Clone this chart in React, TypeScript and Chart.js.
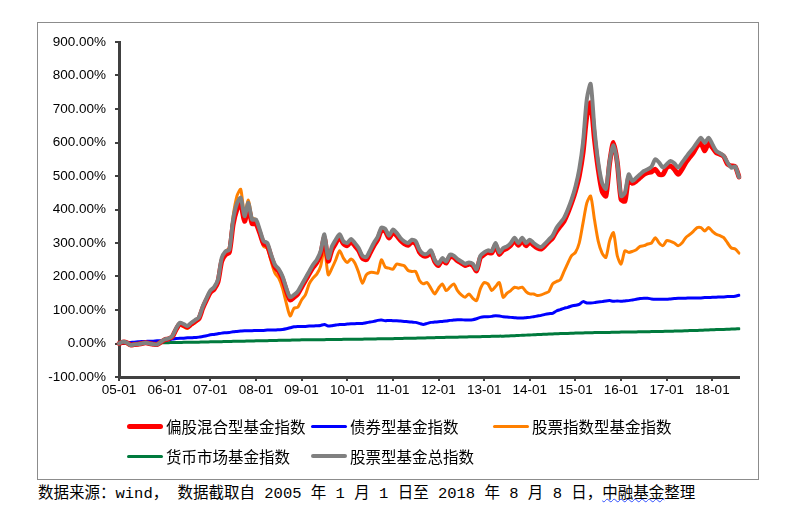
import React, { useEffect, useRef } from "react";
import { Chart, registerables } from "chart.js";

Chart.register(...registerables);

// ---- categories: monthly, 2005-01 .. 2018-08 ----
const startYear = 2005;
const monthCount = 164;
const categories: string[] = [];
for (let i = 0; i < monthCount; i++) {
  const y = (startYear + Math.floor(i / 12)) % 100;
  const m = (i % 12) + 1;
  categories.push(String(y).padStart(2, "0") + "-" + String(m).padStart(2, "0"));
}

// ---- y tick values ----
const yMin = -100;
const yMax = 900;
const yStep = 100;

// ---- series values (%), one value per month ----
const hybridEquity = [
  0, 4, 3, -4, -3, -2, 0, 2, 0, -2, -3, 4,
  11, 14, 20, 42, 58, 54, 49, 58, 66, 74, 105, 130,
  152, 162, 183, 245, 265, 272, 355, 400, 418, 365, 405, 358,
  358, 330, 298, 292, 258, 228, 215, 193, 158, 130, 138, 148,
  168, 188, 208, 227, 242, 266, 315, 246, 280, 300, 318, 298,
  292, 304, 292, 278, 255, 250, 270, 292, 310, 338, 335, 315,
  332, 322, 308, 298, 293, 303, 298, 273, 262, 262, 272, 245,
  233, 250, 240, 260, 257, 247, 240, 233, 237, 233, 217, 256,
  266, 272, 270, 294, 266, 279, 284, 293, 308, 293, 308, 292,
  303, 293, 285, 282, 292, 304, 315, 335, 350, 365, 390, 420,
  455, 500, 570, 680, 718, 610, 520, 455, 440, 540, 600, 540,
  430, 425, 495, 478, 485, 495, 505, 510, 512, 520, 505, 505,
  525, 530, 520, 505, 520, 540, 555, 570, 589, 598, 575, 599,
  585, 570, 565, 558, 535, 530, 528, 497,
];

const bondFund = [
  0, 1, 2, 3, 4, 5, 6, 6, 7, 7, 8, 8,
  9, 11, 13, 15, 16, 16, 17, 17, 18, 19, 21, 23,
  26, 27, 29, 31, 32, 33, 35, 36, 37, 38, 38, 38,
  39, 39, 39, 40, 40, 40, 41, 42, 44, 47, 50, 51,
  51, 51, 52, 52, 53, 54, 57, 52, 53, 55, 57, 57,
  58, 59, 59, 60, 60, 62, 64, 66, 69, 70, 68, 69,
  68, 68, 67, 66, 65, 64, 63, 60, 57, 60, 63, 64,
  65, 66, 67, 69, 70, 71, 71, 70, 70, 71, 74, 78,
  80, 80, 81, 83, 82, 80, 79, 78, 77, 76, 76, 77,
  78, 80, 82, 84, 87, 89, 90, 97, 101, 105, 108, 112,
  114, 117, 125, 121, 121, 122, 124, 125, 127, 128, 126, 127,
  126, 127, 128, 130, 132, 134, 135, 135, 133, 132, 132, 132,
  132, 133, 134, 135, 135, 135, 136, 136, 136, 136, 137, 137,
  138, 138, 139, 139, 140, 140, 141, 144,
];

const stockIndexFund = [
  0, 3, 0, -6, -4, -3, -1, 1, -1, -3, -4, 3,
  10, 13, 18, 38, 55, 50, 45, 55, 62, 72, 105, 130,
  155, 165, 190, 255, 275, 285, 380, 440, 460, 385, 428, 375,
  370, 330, 290, 285, 245, 210, 195, 165, 120, 82, 105, 108,
  130, 145, 178, 195, 207, 230, 285, 205, 225, 250, 277, 255,
  242, 252, 240, 212, 180, 205, 212, 212, 210, 250, 228, 225,
  222, 237, 235, 232, 218, 215, 215, 188, 178, 182, 165, 148,
  165, 178, 158, 168, 178, 158, 145, 138, 148, 135, 128, 163,
  182, 178, 158, 170, 182, 138, 150, 158, 168, 165, 168, 155,
  148, 148, 143, 145, 150, 155, 178, 185, 190, 215, 240, 262,
  272, 300, 360, 420, 440, 370, 305, 270, 257, 307, 331, 262,
  237, 277, 272, 275, 280, 290, 292, 297, 300, 316, 300, 292,
  307, 305, 300, 292, 300, 316, 325, 335, 346, 346, 336, 346,
  335, 326, 322, 316, 300, 285, 282, 270,
];

const moneyMarket = [
  0, 0, 0.5, 0.5, 1, 1, 1, 1.5, 1.5, 2, 2, 2,
  2.5, 2.5, 3, 3, 3, 3.5, 3.5, 4, 4, 4, 4.5, 4.5,
  5, 5, 5.5, 5.5, 6, 6, 6.5, 6.5, 7, 7, 7.5, 7.5,
  8, 8, 8.5, 8.5, 9, 9, 9.5, 9.5, 10, 10, 10.5, 10.5,
  11, 11, 11, 11, 11.5, 11.5, 11.5, 12, 12, 12, 12, 12.5,
  12.5, 12.5, 13, 13, 13, 13.5, 13.5, 13.5, 14, 14, 14, 14.5,
  14.5, 15, 15, 15.5, 15.5, 16, 16, 16.5, 16.5, 17, 17, 17.5,
  18, 18, 18.5, 18.5, 19, 19, 19.5, 19.5, 20, 20, 20.5, 20.5,
  21, 21, 21.5, 21.5, 22, 22, 22.5, 23, 23.5, 24, 24.5, 25,
  25.5, 26, 26.5, 27, 27.5, 28, 28.5, 29, 29.5, 30, 30, 30.5,
  31, 31.5, 31.5, 32, 32, 32.5, 32.5, 33, 33, 33, 33.5, 33.5,
  34, 34, 34.5, 34.5, 34.5, 35, 35, 35, 35.5, 35.5, 36, 36,
  36.5, 36.5, 37, 37.5, 37.5, 38, 38.5, 39, 39, 39.5, 40, 40.5,
  41, 41.5, 42, 42, 42.5, 43, 43.5, 44,
];

const stockTotal = [
  0, 5, 3, -5, -3, -2, 0, 2, 0, -2, -3, 5,
  12, 15, 22, 45, 62, 58, 52, 62, 70, 78, 110, 135,
  158, 168, 190, 255, 275, 280, 370, 418, 435, 380, 420, 370,
  370, 340, 306, 300, 265, 235, 222, 200, 165, 138, 145, 155,
  175, 195, 215, 235, 250, 275, 326, 255, 290, 310, 326, 305,
  300, 312, 300, 285, 262, 258, 278, 300, 318, 346, 342, 322,
  340, 330, 315, 305, 300, 310, 305, 280, 268, 268, 278, 250,
  238, 255, 245, 265, 262, 252, 245, 238, 242, 238, 222, 262,
  272, 278, 276, 300, 272, 285, 290, 300, 316, 300, 316, 300,
  310, 300, 292, 288, 298, 310, 322, 345, 360, 375, 400, 430,
  468, 520, 600, 730, 775, 640, 540, 480, 462, 545, 592, 540,
  440, 450, 505, 485, 495, 505, 515, 520, 528, 550, 540, 525,
  535, 545, 538, 525, 540, 555, 570, 584, 600, 614, 599, 614,
  595, 575, 568, 560, 540, 525, 528, 497,
];

const seriesLabels = [
  "偏股混合型基金指数",
  "债券型基金指数",
  "股票指数型基金指数",
  "货币市场基金指数",
  "股票型基金总指数",
];

const seriesColors = ["#FF0000", "#0000FF", "#FF8000", "#007A3D", "#808080"];
const seriesWidths = [5, 3, 3, 3, 4];
const seriesOrder = [1, 3, 2, 4, 0];
const seriesData = [hybridEquity, bondFund, stockIndexFund, moneyMarket, stockTotal];

const legendColumns = [0, 1, 2, 3, 4];

export default function App() {
  const canvasRef = useRef<HTMLCanvasElement | null>(null);

  useEffect(() => {
    if (!canvasRef.current) return;
    const chart = new Chart(canvasRef.current, {
      type: "line",
      data: {
        labels: categories,
        datasets: seriesData.map((d, i) => ({
          label: seriesLabels[i],
          data: d,
          borderColor: seriesColors[i],
          backgroundColor: seriesColors[i],
          borderWidth: seriesWidths[i],
          order: seriesOrder[i],
          pointRadius: 0,
          tension: 0.25,
          fill: false,
          borderJoinStyle: "round" as const,
          borderCapStyle: "round" as const,
        })),
      },
      options: {
        animation: false,
        responsive: false,
        maintainAspectRatio: false,
        layout: { padding: { left: 0, right: 19, top: 19, bottom: 0 } },
        plugins: {
          legend: { display: false },
          tooltip: { enabled: false },
        },
        scales: {
          x: {
            type: "category",
            offset: false,
            grid: {
              display: true,
              drawOnChartArea: false,
              drawTicks: true,
              tickLength: 4,
              color: "#404040",
              lineWidth: 2,
            },
            border: { display: true, color: "#404040", width: 3 },
            ticks: {
              autoSkip: false,
              maxRotation: 0,
              minRotation: 0,
              padding: 1,
              color: "#000000",
              font: { family: "'Liberation Sans', Arial, sans-serif", size: 13.5 },
              callback: (_v: any, i: number) => (i % 12 === 0 ? categories[i] : null),
            },
            afterFit: (s: any) => {
              s.height = 40;
            },
          },
          y: {
            min: yMin,
            max: yMax,
            grid: {
              display: true,
              drawOnChartArea: false,
              drawTicks: true,
              tickLength: 4,
              color: "#404040",
              lineWidth: 2,
            },
            border: { display: true, color: "#404040", width: 3 },
            ticks: {
              stepSize: yStep,
              padding: 9,
              color: "#000000",
              font: { family: "'Liberation Sans', Arial, sans-serif", size: 13.5 },
              callback: (v: any) => Number(v).toFixed(2) + "%",
            },
            afterFit: (s: any) => {
              s.width = 81;
            },
          },
        },
      },
    });
    return () => chart.destroy();
  }, []);

  return (
    <div style={{ paddingTop: 14, paddingLeft: 29 }}>
      <div
        style={{
          position: "relative",
          width: 720,
          height: 456,
          border: "1px solid #8c8c8c",
          background: "#fff",
        }}
      >
        <canvas ref={canvasRef} width={720} height={394} style={{ display: "block", width: 720, height: 394 }} />
        <div
          style={{
            position: "absolute",
            left: 89,
            top: 388,
            display: "grid",
            gridTemplateColumns: "184px 182px 220px",
            gridAutoRows: "30px",
          }}
        >
          {legendColumns.map((i) => (
            <div key={i} style={{ display: "flex", alignItems: "center" }}>
              <span
                style={{
                  display: "inline-block",
                  width: 36,
                  height: seriesWidths[i],
                  borderRadius: seriesWidths[i] / 2,
                  background: seriesColors[i],
                  marginRight: 3,
                }}
              />
              <span
                style={{
                  fontFamily: "'Noto Sans CJK SC', sans-serif",
                  fontSize: 15.5,
                  color: "#000",
                  whiteSpace: "nowrap",
                  lineHeight: "30px",
                }}
              >
                {seriesLabels[i]}
              </span>
            </div>
          ))}
        </div>
      </div>
      <div
        style={{
          marginTop: 4,
          marginLeft: 1,
          fontFamily: "'Liberation Mono', 'Noto Sans CJK SC', monospace",
          fontSize: 15.5,
          lineHeight: "20px",
          color: "#000",
          whiteSpace: "nowrap",
        }}
      >
        数据来源：wind， 数据截取自 2005 年 1 月 1 日至 2018 年 8 月 8 日，
        <span
          style={{
            textDecorationLine: "underline",
            textDecorationStyle: "wavy",
            textDecorationColor: "#3050ff",
            textDecorationThickness: 1,
            textUnderlineOffset: 0,
          }}
        >
          中融基金
        </span>
        整理
      </div>
    </div>
  );
}
